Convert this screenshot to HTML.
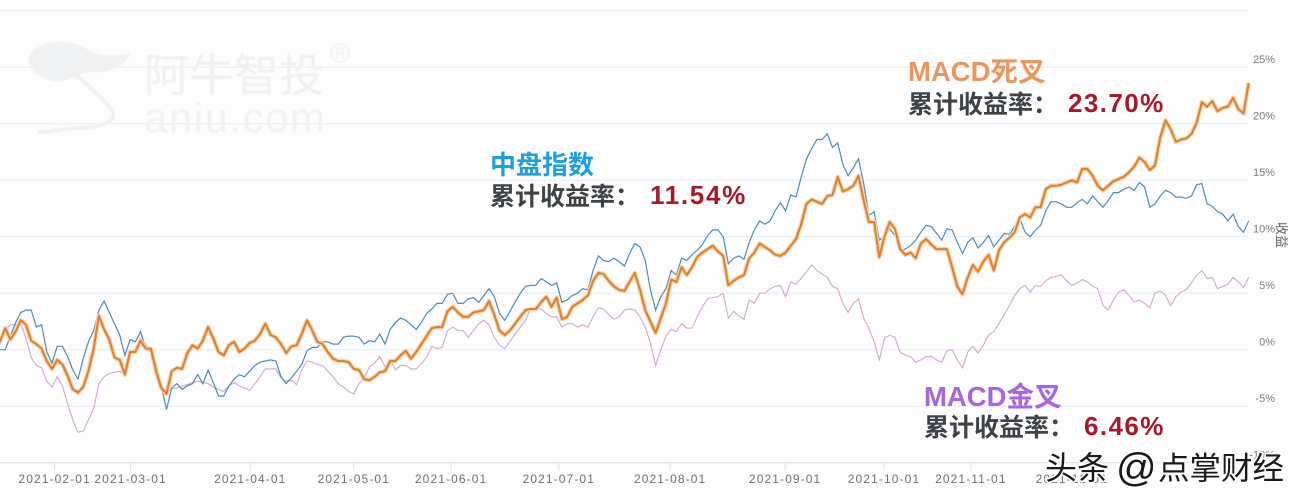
<!DOCTYPE html>
<html lang="zh">
<head>
<meta charset="utf-8">
<title>MACD cumulative return chart</title>
<style>
html,body{margin:0;padding:0;background:#fdfdfe;}
body{width:1298px;height:502px;overflow:hidden;font-family:"Liberation Sans","Noto Sans CJK SC",sans-serif;}
svg{display:block;}
.cn{font-family:"Liberation Sans","Noto Sans CJK SC",sans-serif;}
</style>
</head>
<body>
<svg id="chart" xmlns="http://www.w3.org/2000/svg" width="1298" height="502" viewBox="0 0 1298 502">
  <rect x="0" y="0" width="1298" height="502" fill="#fdfdfe"/>
  <g id="grid"></g>
  <g style="filter:blur(.5px)">
    <path d="M28,60 C33,42 62,36 85,48 C102,58 118,56 131,53 C124,68 108,73 92,72 C78,72 66,84 54,81 C40,78 31,72 28,60 Z" fill="#f0f1f3"/>
    <path d="M72,72 C85,82 104,100 112,110 C118,122 100,128 78,128 C62,129 50,132 38,132" fill="none" stroke="#eff0f2" stroke-width="4"/>
    <text x="144" y="91" font-size="45" fill="#eeeff1" class="cn">阿牛智投</text>
    <text x="144" y="132" font-size="42" fill="#f0f1f3" letter-spacing="1.5" font-family="Liberation Sans">aniu.com</text>
    <text x="330" y="63" font-size="28" fill="#f0f1f3" font-family="Liberation Sans">®</text>
  </g>
  <g id="axes"></g>
  <g id="series" style="filter:blur(.35px)"></g>

  <g style="filter:blur(.3px)">
    <text x="490" y="174" font-size="26" font-weight="700" fill="#1f9fdb" class="cn">中盘指数</text>
    <text x="490" y="205" font-size="25" font-weight="700" fill="#3f4149" class="cn">累计收益率：</text>
    <text x="650" y="204" font-size="26" font-weight="700" letter-spacing="1.7" fill="#a51a2b" font-family="Liberation Sans">11.54%</text>
  </g>
  <g style="filter:blur(.3px)">
    <text x="908" y="81" font-size="27.5" font-weight="700" fill="#e9975f" class="cn">MACD死叉</text>
    <text x="908" y="113" font-size="25" font-weight="700" fill="#3f4149" class="cn">累计收益率：</text>
    <text x="1068" y="112" font-size="26" font-weight="700" letter-spacing="1.4" fill="#a51a2b" font-family="Liberation Sans">23.70%</text>
  </g>
  <g style="filter:blur(.3px)">
    <text x="924" y="406" font-size="27.5" font-weight="700" fill="#a665e2" class="cn">MACD金叉</text>
    <text x="924" y="436" font-size="25" font-weight="700" fill="#3f4149" class="cn">累计收益率：</text>
    <text x="1084" y="435" font-size="26" font-weight="700" letter-spacing="1.4" fill="#a51a2b" font-family="Liberation Sans">6.46%</text>
  </g>
  <text y="479" font-size="32" fill="#1a1a1a" stroke="#ffffff" stroke-width="3" paint-order="stroke" class="cn"><tspan x="1045">头条</tspan><tspan x="1116" font-size="40" y="481">@</tspan><tspan x="1158" y="479" font-size="31.5">点掌财经</tspan></text>
</svg>
<script>
// Cumulative return (%) for each trading day
const midcapIndex = [
0.0,0.0,1.2,2.4,3.3,3.5,3.5,2.0,2.2,-0.2,-1.2,0.3,0.3,-0.6,-1.8,-2.6,-0.8,0.7,1.7,3.5,
4.3,3.3,2.3,1.3,-0.5,0.9,0.7,1.6,0.1,-0.2,-1.2,-3.2,-5.3,-3.4,-3.0,-3.5,-3.2,-3.0,-2.2,-3.0,
-1.8,-2.9,-4.1,-4.1,-3.2,-2.6,-2.2,-2.4,-1.9,-1.4,-1.1,-1.0,-0.9,-1.0,-2.4,-3.0,-2.5,-1.9,-1.3,-0.1,
0.2,0.2,0.7,0.7,0.5,0.5,1.1,1.2,1.2,1.1,0.5,0.8,0.7,1.4,0.5,1.8,2.4,2.8,2.6,2.2,
1.8,2.4,3.2,3.6,4.1,4.1,4.9,5.0,4.1,4.1,4.5,4.6,4.2,4.8,5.4,4.7,3.2,2.6,3.4,4.2,
5.0,5.6,5.7,5.7,6.3,6.0,5.7,5.9,4.2,4.4,4.8,5.0,5.4,5.3,7.0,8.3,7.9,7.8,8.1,7.8,
7.4,8.5,9.4,9.1,7.9,5.3,3.5,4.7,5.4,7.0,6.6,8.1,7.9,8.4,8.8,9.3,10.1,10.6,10.6,10.0,
7.6,8.1,8.3,8.0,9.5,10.6,11.4,11.1,11.4,12.3,13.0,12.3,13.7,13.5,15.3,16.9,17.8,18.6,18.6,19.1,
17.9,18.3,16.4,15.4,16.1,16.9,14.7,11.9,12.2,9.7,10.0,10.7,10.1,8.8,8.9,9.2,9.7,10.4,11.0,10.9,
10.3,9.7,10.7,10.6,9.5,8.5,9.5,9.9,9.0,9.5,10.1,9.1,9.7,10.3,10.2,10.9,11.6,10.4,10.0,10.6,
11.0,12.3,13.1,13.1,12.9,12.6,12.6,13.0,13.3,12.9,13.6,13.1,12.6,13.2,13.9,13.9,14.2,14.4,14.1,14.8,
14.4,12.6,12.9,13.6,14.1,13.9,13.5,13.5,13.4,13.6,14.6,14.7,12.9,12.7,12.2,12.0,11.4,12.0,10.9,10.4,11.4
];
const macdGoldenCross = [
0.5,1.7,2.2,2.2,2.3,1.0,-0.7,-1.4,-1.6,-2.8,-3.3,-2.4,-3.2,-4.8,-6.2,-7.3,-7.2,-6.2,-5.2,-3.0,
-2.4,-2.1,-2.0,-1.9,-2.2,-0.5,0.0,1.0,0.5,-0.3,-1.3,-3.0,-3.9,-3.4,-3.4,-3.2,-3.1,-2.9,-2.8,-2.9,
-3.0,-3.3,-3.5,-3.7,-3.2,-2.9,-3.2,-3.4,-3.6,-3.0,-2.4,-1.7,-1.7,-1.7,-2.5,-2.8,-2.7,-3.1,-1.8,-1.0,
-1.1,-1.3,-1.4,-1.9,-2.4,-3.0,-3.3,-3.7,-3.9,-3.0,-2.5,-1.5,-1.2,-0.6,-1.5,-0.9,-1.8,-1.4,-1.4,-1.7,
-1.7,-1.2,-0.7,0.3,0.1,0.2,1.7,2.0,1.7,1.7,1.1,1.7,2.3,2.6,2.2,1.1,0.4,0.1,0.7,1.4,
2.0,2.6,3.6,3.6,3.6,3.2,2.9,2.9,2.0,2.3,2.3,2.0,2.2,2.0,2.9,3.7,3.6,3.1,2.7,2.9,
3.5,3.6,3.5,2.9,2.0,0.6,-1.4,0.0,1.2,1.8,1.6,2.3,1.9,1.9,2.9,3.8,4.5,4.6,4.7,5.0,
2.8,3.4,3.0,2.7,4.4,4.1,5.0,5.0,5.4,5.6,5.7,4.7,6.0,5.8,6.3,6.9,7.5,7.0,6.7,6.4,
5.6,5.4,4.1,3.3,4.1,4.5,2.8,1.9,0.7,-0.9,1.0,1.3,1.1,-0.2,-0.5,-0.6,-1.1,-0.9,-0.6,-0.6,
-0.9,-1.1,-0.1,0.0,-0.9,-1.6,-0.2,0.3,-0.3,0.4,1.3,1.6,2.3,3.1,3.9,4.8,5.4,5.7,5.1,5.7,
5.6,6.1,6.4,6.5,6.6,6.1,5.7,5.9,6.2,6.0,5.6,5.4,3.9,3.5,4.4,5.1,5.3,4.8,4.2,4.4,
4.1,3.7,5.0,5.2,4.8,3.9,4.7,5.1,5.3,5.9,6.6,7.0,6.3,6.4,5.4,5.6,5.8,6.4,6.0,5.5,6.4
];
const macdDeathCross = [
0.7,1.9,0.9,1.6,2.6,2.2,0.8,0.5,0.1,-1.0,-1.7,-0.9,-1.3,-2.3,-3.5,-3.8,-3.3,-1.9,0.1,3.0,
1.8,0.9,-0.7,-0.9,-2.2,-0.2,-0.2,0.8,0.1,0.1,-1.9,-3.4,-3.9,-1.9,-1.6,-1.7,-0.3,0.4,0.1,0.8,
2.0,1.0,-0.2,-0.5,0.4,0.7,-0.2,0.1,0.6,0.8,1.4,2.3,1.3,1.1,0.5,-0.3,0.3,0.4,1.4,2.6,
1.7,0.7,0.5,-0.2,-0.8,-1.0,-1.0,-1.1,-1.7,-1.8,-2.6,-2.7,-2.4,-2.0,-1.9,-1.0,-1.0,-0.5,-0.1,-0.8,
-0.2,0.5,1.2,1.9,2.0,2.0,3.4,3.8,3.3,2.9,2.9,3.3,3.4,3.5,4.3,3.1,1.7,1.3,1.7,2.3,
2.9,3.5,3.6,3.6,4.2,4.7,3.8,4.6,2.7,2.9,3.8,4.1,4.4,4.8,6.1,6.8,6.7,6.1,5.6,5.3,
5.2,6.0,6.8,5.3,3.5,2.5,1.5,2.8,4.1,6.2,6.0,7.3,6.6,7.3,8.2,8.6,8.9,9.2,8.7,8.3,
5.7,6.1,6.4,6.6,8.1,8.6,9.4,9.1,8.8,8.4,8.3,8.6,9.2,9.8,11.1,12.9,13.3,13.1,12.9,13.6,
13.7,15.3,14.0,14.2,14.5,15.4,13.2,11.3,11.3,8.2,10.0,11.3,10.7,8.9,8.4,8.6,8.1,9.4,9.8,9.3,
8.9,8.9,8.9,7.3,5.6,4.9,6.4,7.5,6.9,7.8,8.4,7.0,8.8,9.5,9.9,10.4,11.7,12.0,11.7,12.6,
12.6,14.2,14.5,14.5,14.6,14.8,15.0,14.8,16.0,16.0,15.4,14.5,14.1,14.5,14.9,15.1,15.3,15.7,16.2,17.0,
16.6,15.9,16.3,18.8,20.3,19.5,18.4,18.6,18.7,19.1,20.1,21.9,21.5,22.0,21.1,21.4,21.5,22.3,21.3,20.9,23.6
];
// Axis content
const gridValues = [-5,0,5,10,15,20,25,30];
const yTickValues = [-10,-5,0,5,10,15,20,25];
const monthLabels = ["2021-02-01","2021-03-01","2021-04-01","2021-05-01","2021-06-01","2021-07-01","2021-08-01","2021-09-01","2021-10-01","2021-11-01","2021-12-01"];
const monthStartDays = [10.5,25.1,48.1,68,86.7,107.4,128.8,150.9,169.9,186.6,206];

const NS = "http://www.w3.org/2000/svg";
const lastDay = midcapIndex.length - 1;
function xScale(day){ return 0 + day * (1248.7 / lastDay); }
function yScale(pct){ return 349.7 - pct * 11.3; }
function pointsFor(values){
  return values.map(function(v,i){ return xScale(i).toFixed(1) + "," + yScale(v).toFixed(1); }).join(" ");
}

const gridGroup = document.getElementById("grid");
gridValues.forEach(function(v){
  const line = document.createElementNS(NS,"line");
  
  
  line.setAttribute("x1",0);
  line.setAttribute("x2",1248);
  line.setAttribute("y1",yScale(v));
  line.setAttribute("y2",yScale(v));
  line.setAttribute("stroke","#e9edf2");
  line.setAttribute("stroke-width","1.2");
  gridGroup.appendChild(line);
});

const axesGroup = document.getElementById("axes");
const baseline = document.createElementNS(NS,"line");


baseline.setAttribute("x1",0);
baseline.setAttribute("x2",1248);
baseline.setAttribute("y1",yScale(-10));
baseline.setAttribute("y2",yScale(-10));
baseline.setAttribute("stroke","#dce1e7");
baseline.setAttribute("stroke-width","1.2");
axesGroup.appendChild(baseline);

monthLabels.forEach(function(label,i){
  const x = xScale(monthStartDays[i]);
  const tick = document.createElementNS(NS,"line");
  
  
  tick.setAttribute("x1",x);
  tick.setAttribute("x2",x);
  tick.setAttribute("y1",yScale(-10));
  tick.setAttribute("y2",yScale(-10)+8);
  tick.setAttribute("stroke","#dce1e7");
  axesGroup.appendChild(tick);
  const text = document.createElementNS(NS,"text");
  
  
  text.setAttribute("x",x);
  text.setAttribute("y",483);
  text.setAttribute("text-anchor","middle");
  text.setAttribute("font-size","12");
  text.setAttribute("letter-spacing","1.1");
  text.setAttribute("fill","#6f6f6f");
  text.setAttribute("font-family","Liberation Sans");
  text.textContent = label;
  axesGroup.appendChild(text);
});

yTickValues.forEach(function(v){
  const text = document.createElementNS(NS,"text");
  
  
  text.setAttribute("x",1275);
  text.setAttribute("y",yScale(v)-4);
  text.setAttribute("text-anchor","end");
  text.setAttribute("font-size","11");
  text.setAttribute("fill","#7d7d7d");
  text.setAttribute("font-family","Liberation Sans");
  text.textContent = v + "%";
  axesGroup.appendChild(text);
});

const yTitle = document.createElementNS(NS,"text");


yTitle.setAttribute("transform","translate(1277,222) rotate(90)");
yTitle.setAttribute("font-size","13");
yTitle.setAttribute("fill","#5f5f5f");
yTitle.setAttribute("class","cn");
yTitle.textContent = "收益";
axesGroup.appendChild(yTitle);

const seriesGroup = document.getElementById("series");

const goldenLine = document.createElementNS(NS,"polyline");


goldenLine.setAttribute("points",pointsFor(macdGoldenCross));
goldenLine.setAttribute("fill","none");
goldenLine.setAttribute("stroke","#d4acd6");
goldenLine.setAttribute("stroke-width","1.2");
seriesGroup.appendChild(goldenLine);

const indexLine = document.createElementNS(NS,"polyline");


indexLine.setAttribute("points",pointsFor(midcapIndex));
indexLine.setAttribute("fill","none");
indexLine.setAttribute("stroke","#4d8db8");
indexLine.setAttribute("stroke-width","1.2");
seriesGroup.appendChild(indexLine);

const deathGlow = document.createElementNS(NS,"polyline");


deathGlow.setAttribute("points",pointsFor(macdDeathCross));
deathGlow.setAttribute("fill","none");
deathGlow.setAttribute("stroke","#f8d3ac");
deathGlow.setAttribute("stroke-width","4.5");
deathGlow.setAttribute("stroke-linejoin","round");
seriesGroup.appendChild(deathGlow);

const deathLine = document.createElementNS(NS,"polyline");


deathLine.setAttribute("points",pointsFor(macdDeathCross));
deathLine.setAttribute("fill","none");
deathLine.setAttribute("stroke","#db7f33");
deathLine.setAttribute("stroke-width","2");
deathLine.setAttribute("stroke-linejoin","round");
seriesGroup.appendChild(deathLine);
</script>
</body>
</html>
